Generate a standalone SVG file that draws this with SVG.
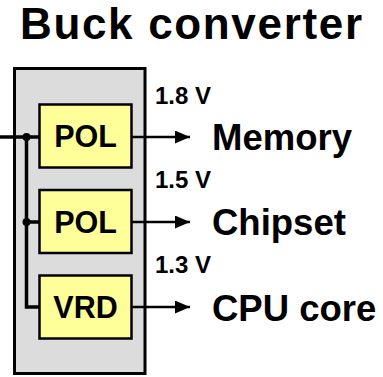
<svg xmlns="http://www.w3.org/2000/svg" width="383" height="377" viewBox="0 0 383 377">
<defs>
<style>
text{font-family:"Liberation Sans",Arial,sans-serif;font-weight:bold;fill:#000}
.title{font-size:44px}
.volt{font-size:24px}
.load{font-size:36.5px}
.blk{font-size:30.5px;text-anchor:middle}
.box{fill:#ffff99;stroke:#000;stroke-width:2.5}
.wire{fill:none;stroke:#000;stroke-width:3.5}
.out{fill:none;stroke:#000;stroke-width:2.5;marker-end:url(#arr)}
</style>
<marker id="arr" markerWidth="16" markerHeight="14" refX="15" refY="6.5" orient="auto" markerUnits="userSpaceOnUse">
<path d="M0,0 L15,6.5 L0,13 Z" fill="#000"/>
</marker>
</defs>
<rect width="383" height="377" fill="#fff"/>
<text class="title" x="20" y="38.5" textLength="342" lengthAdjust="spacing">Buck converter</text>
<g id="enclosure">
<rect x="14.5" y="68.5" width="130.5" height="305" fill="#dcdcdc" stroke="#000" stroke-width="3"/>
</g>
<g id="connectors">
<path class="wire" d="M0,137 H40 M26.5,137 V307 H40 M26.5,222 H40"/>
<circle cx="26.5" cy="137" r="4" fill="#000"/>
<circle cx="26.5" cy="222" r="4" fill="#000"/>
<path class="out" d="M131,137 H190"/>
<path class="out" d="M131,222 H190"/>
<path class="out" d="M131,307 H190"/>
</g>
<g id="pol1">
<rect class="box" x="39.5" y="104.5" width="92" height="63"/>
<text class="blk" x="85.5" y="147">POL</text>
</g>
<g id="pol2">
<rect class="box" x="39.5" y="190" width="92" height="63"/>
<text class="blk" x="85.5" y="232.5">POL</text>
</g>
<g id="vrd">
<rect class="box" x="39.5" y="275.5" width="92" height="63"/>
<text class="blk" x="85.5" y="318">VRD</text>
</g>
<g id="memory">
<text class="volt" x="155" y="104">1.8 V</text>
<text class="load" x="212" y="150">Memory</text>
</g>
<g id="chipset">
<text class="volt" x="155" y="188">1.5 V</text>
<text class="load" x="212" y="235">Chipset</text>
</g>
<g id="cpu">
<text class="volt" x="155" y="273">1.3 V</text>
<text class="load" x="212" y="321">CPU core</text>
</g>
</svg>
